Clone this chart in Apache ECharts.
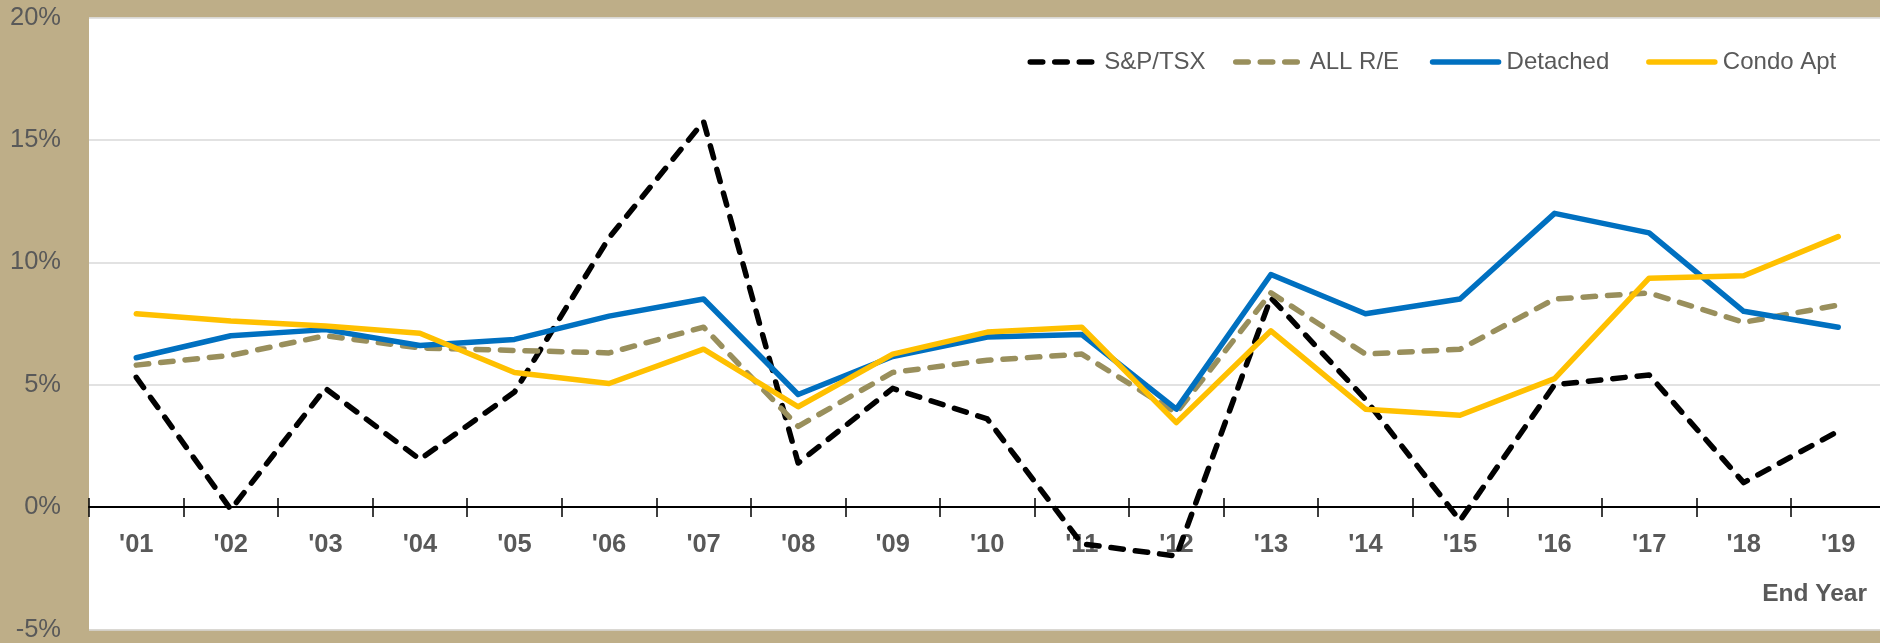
<!DOCTYPE html>
<html>
<head>
<meta charset="utf-8">
<script src="https://cdn.jsdelivr.net/npm/echarts@6/dist/echarts.min.js"></script>
<style>
html,body{margin:0;padding:0;background:#BEAE88;}
#chart{width:1880px;height:643px;}
</style>
</head>
<body>
<div id="chart"></div>
<script>
var categories = ["'01","'02","'03","'04","'05","'06","'07","'08","'09","'10","'11","'12","'13","'14","'15","'16","'17","'18","'19"];
var spTsx    = [5.3, -0.1, 4.85, 1.95, 4.7, 11.0, 15.75, 1.8, 4.85, 3.6, -1.5, -2.0, 8.55, 4.4, -0.55, 5.0, 5.4, 1.0, 3.1];
var allRE    = [5.8, 6.2, 7.0, 6.5, 6.4, 6.3, 7.35, 3.3, 5.5, 6.0, 6.25, 3.85, 8.75, 6.25, 6.45, 8.5, 8.75, 7.55, 8.25];
var detached = [6.1, 7.0, 7.25, 6.6, 6.85, 7.8, 8.5, 4.6, 6.15, 6.95, 7.05, 4.0, 9.5, 7.9, 8.5, 12.0, 11.2, 8.0, 7.35];
var condoApt = [7.9, 7.6, 7.4, 7.1, 5.5, 5.05, 6.45, 4.1, 6.25, 7.15, 7.35, 3.45, 7.2, 4.0, 3.75, 5.25, 9.35, 9.45, 11.05];
var yTicks = [-5, 0, 5, 10, 15, 20];
var seriesNames = ['S&P/TSX', 'ALL R/E', 'Detached', 'Condo Apt'];
var seriesColors = ['#000000', '#998F5C', '#0070C0', '#FFC000'];
var seriesDashed = [true, true, false, false];

var FONT = "'Liberation Sans', Arial, sans-serif";
var GREY = '#595959';
var DASH = [12.5, 12];
var LW = 5.5;

var GRID_TOP = 17.5, GRID_H = 612;
var yMin = yTicks[0], yMax = yTicks[yTicks.length - 1];
// distance of the value-0 line from the grid's bottom / top edges
var zeroFromBottom = GRID_H * (0 - yMin) / (yMax - yMin);
var zeroFromTop = GRID_H * (yMax - 0) / (yMax - yMin);

function lineSeries(i, data) {
  return {
    name: seriesNames[i], type: 'line', data: data, symbol: 'none', showSymbol: false,
    xAxisIndex: 0, yAxisIndex: 0,
    lineStyle: { color: seriesColors[i], width: LW, type: seriesDashed[i] ? DASH : 'solid', cap: 'round', join: 'round' },
    itemStyle: { color: seriesColors[i] },
    emphasis: { disabled: true }
  };
}

function legendAt(i, left) {
  return {
    data: [seriesNames[i]], left: left, top: 48, itemWidth: 66, itemHeight: 28, padding: 0,
    itemStyle: { opacity: 0 },
    lineStyle: { color: seriesColors[i], width: LW, type: seriesDashed[i] ? DASH : 'solid', cap: 'round', opacity: 1 },
    textStyle: { color: GREY, fontSize: 24, fontFamily: FONT, lineHeight: 28, padding: [0, 0, 0, 3] }
  };
}

var chart = echarts.init(document.getElementById('chart'), null, { renderer: 'canvas' });
chart.setOption({
  animation: false,
  backgroundColor: '#BEAE88',
  title: {
    text: 'End Year', right: 13, top: 582, padding: 0,
    textStyle: { color: GREY, fontSize: 24.5, fontWeight: 'bold', fontFamily: FONT }
  },
  legend: [
    legendAt(0, 1027.5),
    legendAt(1, 1233),
    legendAt(2, 1429.8),
    legendAt(3, 1646.1)
  ],
  grid: {
    left: 89, top: GRID_TOP, width: 1796.5, height: GRID_H,
    outerBoundsMode: 'none', containLabel: false,
    show: true, backgroundColor: '#FFFFFF', borderWidth: 0
  },
  xAxis: [
    {
      type: 'category', data: categories, boundaryGap: true, position: 'bottom', offset: -zeroFromBottom,
      axisLine: { show: true, onZero: false, lineStyle: { color: '#000', width: 2 } },
      axisTick: { show: true, inside: false, length: 10, lineStyle: { color: '#000', width: 1.5 } },
      axisLabel: { color: GREY, fontSize: 25.5, fontWeight: 'bold', fontFamily: FONT, margin: 25 },
      splitLine: { show: false }
    },
    {
      type: 'category', data: categories, boundaryGap: true, position: 'top', offset: -zeroFromTop,
      axisLine: { show: false, onZero: false },
      axisTick: { show: true, inside: false, length: 9, lineStyle: { color: '#000', width: 1.5 } },
      axisLabel: { show: false },
      splitLine: { show: false }
    }
  ],
  yAxis: {
    type: 'value', min: yMin, max: yMax, interval: 5,
    axisLine: { show: false }, axisTick: { show: false },
    axisLabel: { color: GREY, fontSize: 25.5, fontFamily: FONT, margin: 28, formatter: '{value}%' },
    splitLine: { show: true, lineStyle: { color: '#D9D9D9', width: 1.5 } }
  },
  series: [
    lineSeries(0, spTsx),
    lineSeries(1, allRE),
    lineSeries(2, detached),
    lineSeries(3, condoApt)
  ]
});
</script>
</body>
</html>
